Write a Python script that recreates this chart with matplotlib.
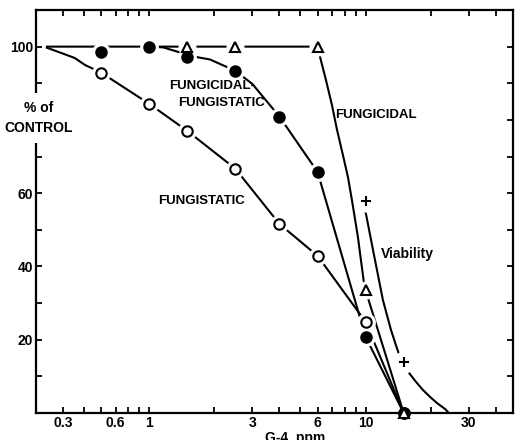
import matplotlib
matplotlib.use("Agg")
import matplotlib.pyplot as plt
from matplotlib.ticker import FixedLocator, FixedFormatter

plt.rcParams['font.family'] = ['Liberation Sans', 'DejaVu Sans']
plt.rcParams['font.weight'] = 'bold'

# G-4 concentration (ppm) for each assay
conc = [0.6, 1, 1.5, 2.5, 4, 6, 10, 15]

# growth as % of control
fungistatic = [92.9, 84.4, 77.0, 66.7, 51.6, 42.9, 24.9, 0]
fungicidal_fungistatic = [98.6, 100, 97.3, 93.4, 80.9, 65.8, 20.8, 0]
fungicidal_conc = [1.5, 2.5, 6, 10, 15]
fungicidal = [100, 100, 100, 33.5, 0]
viability_conc = [10, 15]
viability = [58, 14]

# hand-fitted curves drawn through the points
fungistatic_curve_x = [0.337, 0.387, 0.453, 0.505, 0.6, 1, 1.5, 2.5, 4, 6, 10, 15]
fungistatic_curve_y = [99.7, 98.4, 96.9, 95.0, 92.9, 84.4, 77.0, 66.7, 51.6, 42.9, 24.9, 0]
ff_curve_x = [1.0, 1.16, 1.39, 1.5, 1.91, 2.5, 3.0, 4, 6, 10, 15]
ff_curve_y = [100, 99.8, 98.4, 97.6, 96.5, 93.4, 89.8, 80.9, 65.8, 20.8, 0]
fungicidal_curve_x = [0.337, 6, 6.16, 6.56, 6.99, 7.38, 7.86, 8.29, 8.65, 9.22,
                      9.52, 9.83, 10, 15]
fungicidal_curve_y = [100, 100, 97.2, 90.9, 84.1, 77.3, 70.4, 64.4, 58.1, 48.0,
                      41.7, 35.5, 33.5, 0]
viability_curve_x = [10, 10.94, 12.03, 13.1, 13.9, 14.7, 16.04, 17.1, 18.4, 19.85,
                     21.4, 23.3, 24.0]
viability_curve_y = [54.9, 43.1, 30.8, 22.7, 18.0, 13.9, 10.6, 8.5, 6.3, 4.4,
                     2.7, 1.1, 0.3]

xtick_at = [0.4, 0.7, 1, 3, 6, 10, 30]
xtick_labels = ['0.3', '0.6', '1', '3', '6', '10', '30']
ytick_labels = {20: '20', 40: '40', 60: '60', 100: '100'}

fig = plt.figure(figsize=(5.15, 4.4), dpi=100)
ax = fig.add_axes([36 / 515, 27 / 440, 477 / 515, 403 / 440])
ax.set_xscale('log')
ax.set_xlim(0.3, 48)
ax.set_ylim(0, 110)

lw = 1.5
for cx, cy in [(fungistatic_curve_x, fungistatic_curve_y),
               (ff_curve_x, ff_curve_y),
               (fungicidal_curve_x, fungicidal_curve_y),
               (viability_curve_x, viability_curve_y)]:
    ax.plot(cx, cy, color='black', lw=lw, zorder=2, solid_joinstyle='round')


def points(x, y, marker, ms, fc, halo=5):
    # white halo breaks the curve around each symbol
    hx = [a for a, b in zip(x, y) if b > 0]
    hy = [b for b in y if b > 0]
    ax.plot(hx, hy, ls='none', marker='o', ms=ms + halo, mfc='white',
            mec='white', zorder=3)
    ax.plot(x, y, ls='none', marker=marker, ms=ms, mfc=fc, mec='black',
            mew=1.5, zorder=4, clip_on=False)


points(conc, fungistatic, 'o', 7.5, 'white')
points(conc, fungicidal_fungistatic, 'o', 7.5, 'black')
points(fungicidal_conc, fungicidal, '^', 7, 'white')
points(viability_conc, viability, '+', 7, 'black', halo=8)

ax.text(1.95, 89.3, 'FUNGICIDAL-', ha='center', va='center', fontsize=9.5)
ax.text(2.17, 84.6, 'FUNGISTATIC', ha='center', va='center', fontsize=9.5)
ax.text(1.75, 57.9, 'FUNGISTATIC', ha='center', va='center', fontsize=9.5)
ax.text(11.2, 81.3, 'FUNGICIDAL', ha='center', va='center', fontsize=9.5)
ax.text(15.6, 43.4, 'Viability', ha='center', va='center', fontsize=10)

# ticks
xpos = [0.4, 0.5, 0.6, 0.7, 0.8, 0.9, 1, 2, 3, 4, 5, 6, 7, 8, 9, 10, 20, 30, 40]
xlab = [xtick_labels[xtick_at.index(p)] if p in xtick_at else '' for p in xpos]
ax.xaxis.set_major_locator(FixedLocator(xpos))
ax.xaxis.set_major_formatter(FixedFormatter(xlab))
ax.xaxis.set_minor_locator(FixedLocator([]))
ypos = list(range(10, 110, 10))
ax.yaxis.set_major_locator(FixedLocator(ypos))
ax.yaxis.set_major_formatter(FixedFormatter([ytick_labels.get(p, '') for p in ypos]))
ax.tick_params(direction='in', length=4, width=1.3, pad=2, labelsize=10,
               top=True, right=True)
for s in ax.spines.values():
    s.set_linewidth(1.6)

fig.text(39 / 515, 1 - 118 / 440, '% of\nCONTROL', ha='center', va='center',
         fontsize=10, linespacing=1.55,
         bbox=dict(boxstyle='square,pad=0.6', fc='white', ec='none'))
fig.text(295 / 515, 1 - 431 / 440, 'G-4  ppm', ha='center', va='top', fontsize=10)

fig.savefig('out.png', dpi=100)
